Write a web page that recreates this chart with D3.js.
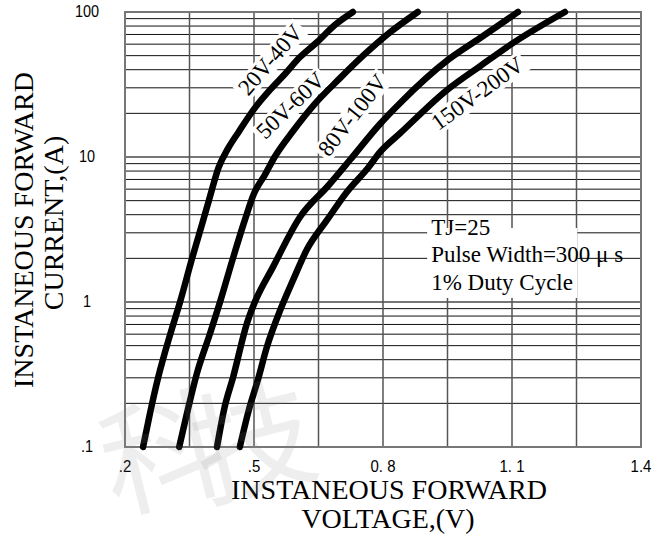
<!DOCTYPE html>
<html><head><meta charset="utf-8">
<script src="https://cdn.jsdelivr.net/npm/d3@7"></script>
<style>body{margin:0;background:#fff}</style>
</head><body><svg id="c" width="668" height="539"></svg>
<script>
// ---- data ----
const xTickValues = [0.2, 0.5, 0.8, 1.1, 1.4];
const xTickLabels = [".2", ".5", "0. 8", "1. 1", "1.4"];
const xGridValues = [0.2, 0.35, 0.5, 0.65, 0.8, 0.95, 1.1, 1.25, 1.4];
const yTickValues = [0.1, 1, 10, 100];
const yTickLabels = [".1", "1", "10", "100"];
const seriesNames = ["20V-40V", "50V-60V", "80V-100V", "150V-200V"];
const s1V = [0.242,0.258,0.277,0.306,0.328,0.356,0.372,0.395,0.418,0.440,0.465,0.503,0.537,0.572,0.607,0.647,0.688,0.730];
const s1A = [0.1,0.17,0.30,0.61,1,2,2.9,5,8.5,11.5,15,22,29,37.4,48.9,62.1,81.3,100];
const s2V = [0.326,0.344,0.367,0.398,0.421,0.451,0.479,0.500,0.525,0.548,0.590,0.640,0.700,0.760,0.810,0.881];
const s2A = [0.1,0.17,0.32,0.61,1,2,3.7,5.6,7.5,10,15,23,35,52,70,100];
const s3V = [0.414,0.432,0.451,0.484,0.502,0.544,0.607,0.672,0.723,0.793,0.840,0.951,1.026,1.114];
const s3A = [0.1,0.19,0.30,0.72,1,1.74,3.86,6.31,9.53,16.9,23.6,46.7,66.2,100];
const s4V = [0.467,0.488,0.509,0.530,0.561,0.591,0.623,0.670,0.716,0.765,0.793,0.840,0.949,1.026,1.102,1.223];
const s4A = [0.1,0.18,0.29,0.49,0.88,1.42,2.3,3.68,5.74,8.4,10.8,14.6,29,42.4,61,100];
const labelV = [0.537, 0.584, 0.728, 1.019];
const labelA = [47, 22.8, 19.5, 27.6];
const labelAngle = [-49, -44, -52, -36];
const noteLines = ["TJ=25", "Pulse Width=300 μ s", "1% Duty Cycle"];
const noteV = 0.912, noteA = 2.9;
const xTitle = ["INSTANEOUS FORWARD", "VOLTAGE,(V)"];
const yTitle = ["INSTANEOUS FORWARD", "CURRENT,(A)"];
const watermark = ["科", "技"];

// ---- layout ----
const L = 125, R = 641, T = 12, B = 447;
const svg = d3.select("#c");
svg.append("rect").attr("width",668).attr("height",539).attr("fill","#fff");
const x = d3.scaleLinear().domain([0.2, 1.4]).range([L, R]);
const y = d3.scaleLog().domain([0.1, 100]).range([B, T]);
const serif = "'Liberation Serif','Times New Roman',serif";
const sans = "'Liberation Sans',Arial,sans-serif";

// grid
const isDecade = d => Math.abs(Math.log10(d) - Math.round(Math.log10(d))) < 1e-6;
const grid = svg.append("g");
grid.selectAll("line.h").data(y.ticks()).join("line")
  .attr("x1", L).attr("x2", R).attr("y1", d => y(d)).attr("y2", d => y(d))
  .attr("stroke", d => isDecade(d) ? "#777" : "#111")
  .attr("stroke-width", d => isDecade(d) ? 2 : 1);
grid.selectAll("line.v").data(xGridValues).join("line")
  .attr("x1", d => x(d)).attr("x2", d => x(d)).attr("y1", T).attr("y2", B)
  .attr("stroke", "#555").attr("stroke-width", 1.5);
svg.append("rect").attr("x",L).attr("y",T).attr("width",R-L).attr("height",B-T)
  .attr("fill","none").attr("stroke","#777").attr("stroke-width",2);

// note box background
const note = svg.append("g");
note.append("rect").attr("x", x(noteV)-4).attr("y", y(noteA)-7).attr("width", 150).attr("height", 70).attr("fill","#fff");

// curve label groups
const labG = svg.append("g");
const labs = labG.selectAll("g").data(seriesNames).join("g")
  .attr("transform", (d,i) => `translate(${x(labelV[i])},${y(labelA[i])}) rotate(${labelAngle[i]})`);
labs.append("text").attr("text-anchor","middle").attr("dy","0.35em")
  .attr("font-family", serif).attr("font-size", 23).text(d => d);
labs.each(function(){
  const g = d3.select(this); const bb = g.select("text").node().getBBox();
  g.insert("rect","text").attr("x", bb.x-3).attr("y", bb.y+2).attr("width", bb.width+6).attr("height", bb.height-3).attr("fill","#fff");
});

// curves
const seriesV = [s1V, s2V, s3V, s4V], seriesA = [s1A, s2A, s3A, s4A];
const line = d3.line().x(d => x(d[0])).y(d => y(d[1])).curve(d3.curveMonotoneX);
svg.append("g").selectAll("path").data(seriesV.map((v,i) => v.map((vv,j) => [vv, seriesA[i][j]]))).join("path")
  .attr("d", line).attr("fill","none").attr("stroke","#000").attr("stroke-width",6.5)
  .attr("stroke-linecap","round").attr("stroke-linejoin","round");

labG.raise();
note.raise();
note.selectAll("text").data(noteLines).join("text")
  .attr("x", x(noteV)).attr("y", (d,i) => y(noteA) + i*27.5)
  .attr("font-family", serif).attr("font-size", 23).text(d => d);

// x tick labels (slightly condensed)
svg.append("g").selectAll("text").data(xTickValues).join("text")
  .attr("transform", d => `translate(${x(d)},${B + 25}) scale(0.88,1)`).attr("text-anchor","middle")
  .attr("font-family", sans).attr("font-size", 17).text((d,i) => xTickLabels[i]);
// y tick labels
svg.append("g").selectAll("text").data(yTickValues).join("text")
  .attr("transform", d => `translate(87,${y(d) + 5}) scale(0.85,1)`).attr("text-anchor","middle")
  .attr("font-family", sans).attr("font-size", 17).text((d,i) => yTickLabels[i]);

// axis titles
svg.append("text").attr("x", 389).attr("y", 499).attr("text-anchor","middle")
  .attr("font-family", serif).attr("font-size", 28).text(xTitle[0]);
svg.append("text").attr("x", 388).attr("y", 528).attr("text-anchor","middle")
  .attr("font-family", serif).attr("font-size", 28).text(xTitle[1]);
svg.append("text").attr("transform","translate(33,230) rotate(-90)").attr("text-anchor","middle")
  .attr("font-family", serif).attr("font-size", 28).text(yTitle[0]);
svg.append("text").attr("transform","translate(63,223) rotate(-90)").attr("text-anchor","middle")
  .attr("font-family", serif).attr("font-size", 28).text(yTitle[1]);

// watermark overlay (faint, translucent)
const wm = svg.append("g").attr("fill","#888").attr("fill-opacity",0.14)
  .attr("font-family","'Noto Sans CJK SC'").attr("font-size",122);
wm.selectAll("text").data(watermark).join("text")
  .attr("transform", (d,i) => i === 0 ? "translate(114,512) rotate(-14)" : "translate(205,500) rotate(-14)")
  .text(d => d);
</script></body></html>
